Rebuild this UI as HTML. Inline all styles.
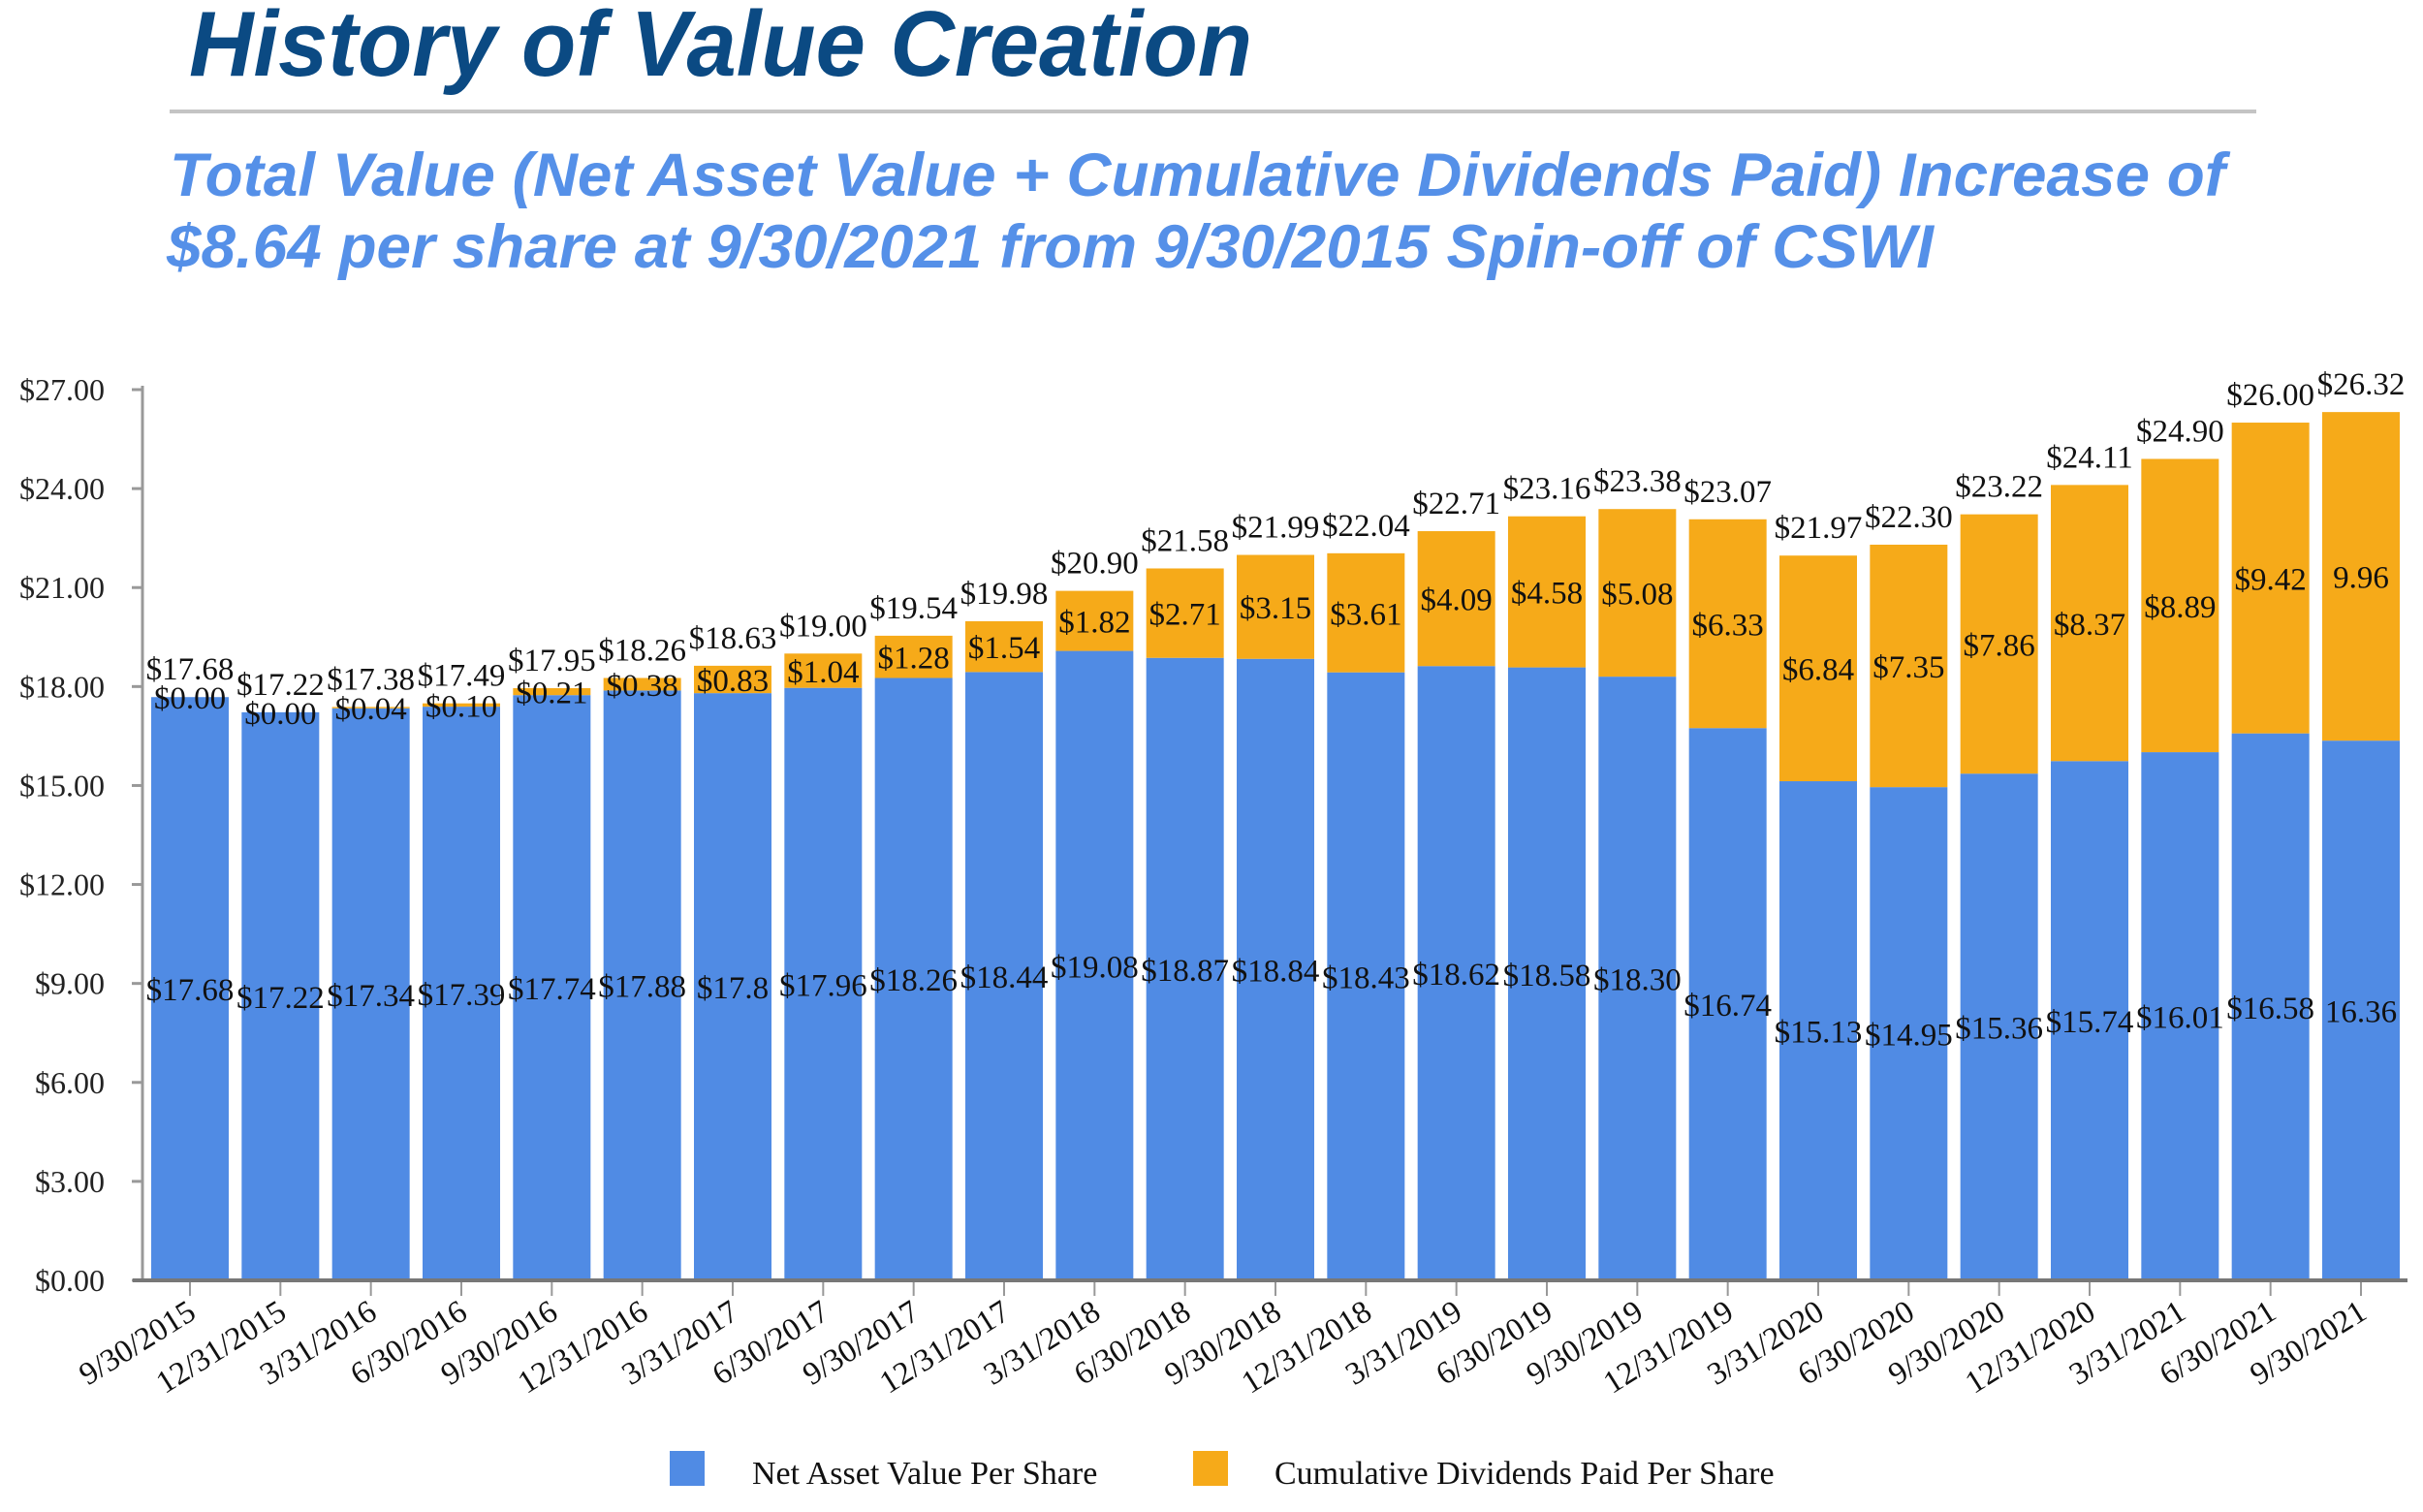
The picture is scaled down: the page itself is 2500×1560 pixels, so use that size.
<!DOCTYPE html>
<html><head><meta charset="utf-8"><style>
html,body{margin:0;padding:0;background:#fff;}
body{width:2500px;height:1560px;overflow:hidden;position:relative;}
svg{position:absolute;left:0;top:0;}
</style></head><body>
<svg id="chart" width="2500" height="1560" viewBox="0 0 2500 1560" xmlns="http://www.w3.org/2000/svg">
<text x="195" y="78" font-family="Liberation Sans, sans-serif" font-size="96" font-weight="bold" font-style="italic" fill="#0b4a83" textLength="1097" lengthAdjust="spacingAndGlyphs">History of Value Creation</text>
<rect x="175" y="113" width="2153" height="4" fill="#c4c4c4"/>
<text x="175" y="202" font-family="Liberation Sans, sans-serif" font-size="63" font-weight="bold" font-style="italic" fill="#5590e8" textLength="2121" lengthAdjust="spacingAndGlyphs">Total Value (Net Asset Value + Cumulative Dividends Paid) Increase of</text>
<text x="172" y="276" font-family="Liberation Sans, sans-serif" font-size="63" font-weight="bold" font-style="italic" fill="#5590e8" textLength="1823" lengthAdjust="spacingAndGlyphs">$8.64 per share at 9/30/2021 from 9/30/2015 Spin-off of CSWI</text>
<g id="plot"></g>
<rect x="691" y="1497" width="36" height="36" fill="#508be4"/>
<text x="776" y="1531" font-family="Liberation Serif, serif" font-size="34" fill="#111">Net Asset Value Per Share</text>
<rect x="1231" y="1497" width="36" height="36" fill="#f6aa19"/>
<text x="1315" y="1531" font-family="Liberation Serif, serif" font-size="34" fill="#111">Cumulative Dividends Paid Per Share</text>
</svg>
<script>
const categories = ["9/30/2015","12/31/2015","3/31/2016","6/30/2016","9/30/2016","12/31/2016","3/31/2017","6/30/2017","9/30/2017","12/31/2017","3/31/2018","6/30/2018","9/30/2018","12/31/2018","3/31/2019","6/30/2019","9/30/2019","12/31/2019","3/31/2020","6/30/2020","9/30/2020","12/31/2020","3/31/2021","6/30/2021","9/30/2021"];
const navValues = [17.68,17.22,17.34,17.39,17.74,17.88,17.8,17.96,18.26,18.44,19.08,18.87,18.84,18.43,18.62,18.58,18.30,16.74,15.13,14.95,15.36,15.74,16.01,16.58,16.36];
const divValues = [0,0,0.04,0.10,0.21,0.38,0.83,1.04,1.28,1.54,1.82,2.71,3.15,3.61,4.09,4.58,5.08,6.33,6.84,7.35,7.86,8.37,8.89,9.42,9.96];
const navLabels = ["$17.68","$17.22","$17.34","$17.39","$17.74","$17.88","$17.8","$17.96","$18.26","$18.44","$19.08","$18.87","$18.84","$18.43","$18.62","$18.58","$18.30","$16.74","$15.13","$14.95","$15.36","$15.74","$16.01","$16.58","16.36"];
const divLabels = ["$0.00","$0.00","$0.04","$0.10","$0.21","$0.38","$0.83","$1.04","$1.28","$1.54","$1.82","$2.71","$3.15","$3.61","$4.09","$4.58","$5.08","$6.33","$6.84","$7.35","$7.86","$8.37","$8.89","$9.42","9.96"];
const totalLabels = ["$17.68","$17.22","$17.38","$17.49","$17.95","$18.26","$18.63","$19.00","$19.54","$19.98","$20.90","$21.58","$21.99","$22.04","$22.71","$23.16","$23.38","$23.07","$21.97","$22.30","$23.22","$24.11","$24.90","$26.00","$26.32"];
const yTicks = [0,3,6,9,12,15,18,21,24,27];
const yTickLabels = ["$0.00","$3.00","$6.00","$9.00","$12.00","$15.00","$18.00","$21.00","$24.00","$27.00"];

const NS="http://www.w3.org/2000/svg";
const g=document.getElementById('plot');
const X0=147, X1=2484, Y0=1321, Y27=402;
const yScale=v=>Y0-(v/27)*(Y0-Y27);
const firstC=196, step=(2436-196)/24, barW=80;
const xScale=i=>firstC+i*step;
function el(tag,attrs,txt){const e=document.createElementNS(NS,tag);for(const k in attrs)e.setAttribute(k,attrs[k]);if(txt!==undefined)e.textContent=txt;g.appendChild(e);return e;}
const serif="Liberation Serif, serif";

let ya=el('line',{x1:X0,y1:Y27-4,x2:X0,y2:Y0,stroke:'#999','stroke-width':3});


yTicks.forEach((t,i)=>{
  const y=yScale(t);
  let tk=el('line',{x1:X0-11,y1:y,x2:X0,y2:y,stroke:'#999','stroke-width':3});
  
  
  let tl=el('text',{x:108,y:y+11,'text-anchor':'end','font-family':serif,'font-size':32,fill:'#222'},yTickLabels[i]);
  
  
});

categories.forEach((c,i)=>{
  const cx=xScale(i), nav=navValues[i], dv=divValues[i];
  const yn=yScale(nav), yt=yScale(nav+dv);
  let b=el('rect',{x:cx-barW/2,y:yn,width:barW,height:Y0-yn,fill:'#508be4'});
  
  
  let o=el('rect',{x:cx-barW/2,y:yt,width:barW,height:yn-yt,fill:'#f6aa19'});
  
  
  let l1=el('text',{x:cx,y:(yn+Y0)/2+12,'text-anchor':'middle','font-family':serif,'font-size':33,fill:'#111'},navLabels[i]);
  
  
  let l2=el('text',{x:cx,y:(yt+yn)/2+12,'text-anchor':'middle','font-family':serif,'font-size':33,fill:'#111'},divLabels[i]);
  
  
  let l3=el('text',{x:cx,y:yt-18,'text-anchor':'middle','font-family':serif,'font-size':33,fill:'#111'},totalLabels[i]);
  
  
  let tk=el('line',{x1:cx,y1:Y0,x2:cx,y2:Y0+16,stroke:'#999','stroke-width':2});
  
  
  let xl=el('text',{x:cx+8,y:Y0+38,'text-anchor':'end','font-family':serif,'font-size':33,fill:'#111',transform:`rotate(-32 ${cx+8} ${Y0+38})`},c);
  
  
});
let xa=el('line',{x1:X0-10,y1:Y0,x2:X1,y2:Y0,stroke:'#777','stroke-width':4});


</script>
</body></html>
